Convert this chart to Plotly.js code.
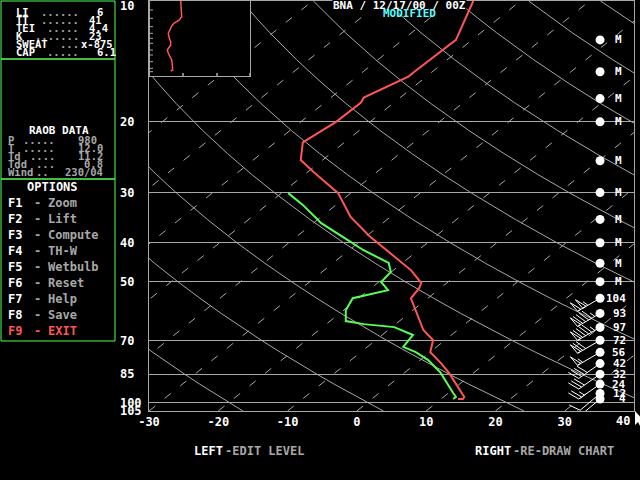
<!DOCTYPE html>
<html><head><meta charset="utf-8">
<script src="https://cdn.plot.ly/plotly-3.0.1.min.js"></script>
<style>html,body{margin:0;padding:0;background:#000;}#chart{width:640px;height:480px;}</style>
</head><body><div id="chart"></div>
<script>
// ---------------- data ----------------
// temperature profile (skewed x-axis units, pressure in tens of hPa)
const tempX = [16.8, 14.3, 8.3, 7.5, 1.0, 0.6, -3.0, -7.8, -8.1, -6.2, -2.7, -0.9, 1.8, 4.2, 7.8, 9.3, 9.0, 7.8, 8.5, 9.6, 11.0, 10.6, 12.1, 13.3, 15.5, 15.3, 14.6];
const tempP = [10.0, 12.5, 15.0, 15.4, 17.4, 17.9, 20.0, 22.5, 24.9, 26.7, 30.1, 34.5, 38.5, 41.7, 46.8, 50.4, 51.9, 55.0, 58.9, 66.0, 69.9, 74.9, 79.7, 84.4, 96.9, 98.0, 98.0];
// dewpoint profile
const dewX = [-9.9, -7.8, -5.6, -5.2, -1.3, 0.9, 4.6, 4.9, 3.5, 4.5, -0.6, -1.6, -1.6, 1.0, 5.4, 8.1, 6.7, 8.5, 10.3, 12.1, 13.9, 14.3, 13.9];
const dewP = [30.1, 32.2, 35.1, 35.7, 39.4, 41.7, 44.9, 47.3, 50.1, 52.5, 55.0, 58.9, 62.7, 63.8, 64.9, 67.9, 72.7, 74.9, 78.4, 84.4, 94.7, 96.9, 98.0];
// winds
const windP = [55, 60, 65, 70, 75, 80, 85, 90, 95, 98];
const windSpd = [104, 93, 97, 72, 56, 42, 32, 24, 12, 4];
const windDir = [240, 240, 240, 240, 240, 235, 235, 235, 230, 230];
const missingP = [12.5, 15, 17.5, 20, 25, 30, 35, 40, 45, 50];
// axes
const yTicks = [10, 20, 30, 40, 50, 70, 85, 100, 105];
const yTickText = ['', '20', '30', '40', '50', '70', '85', '100', '105'];
const xTicks = [-30, -20, -10, 0, 10, 20, 30, 40];
const xTickText = ['-30', '-20', '-10', '0', '10', '20', '30', ''];
// background lines
const isotherms = [-100, -90, -80, -70, -60, -50, -40, -30, -20, -10, 0, 10, 20, 30, 40];
const adiabats = [-20, 0, 20, 40, 60, 80, 100, 120, 140, 160, 180, 200, 220];
// inset curve
const insetT = [30.7, 31.0, 31.7, 29.3, 24.0, 21.7, 20.0, 18.3, 19.3, 20.7, 20.7, 18.3, 17.3, 18.3, 20.0, 21.7, 22.3, 22.7, 20.7];
const insetLev = [0, 5.7, 15.7, 19, 22.3, 25, 29, 32.3, 37.3, 40.7, 44, 47.3, 49, 52.3, 55.7, 59, 64, 69, 70];
// text panels
const indexNames = ['LI', 'TT', 'TEI', 'K', 'SWEAT', 'CAP'];
const indexVals = ['6', '41', '4.4', '23', 'x-875', '6.1'];
const raobNames = ['P', 'T', 'Td', 'Tdd', 'Wind'];
const raobVals = ['980', '12.0', '11.2', '0.8', '230/04'];
const optKeys = ['F1', 'F2', 'F3', 'F4', 'F5', 'F6', 'F7', 'F8', 'F9'];
const optNames = ['Zoom', 'Lift', 'Compute', 'TH-W', 'Wetbulb', 'Reset', 'Help', 'Save', 'EXIT'];

// ---------------- styling / geometry ----------------
const W = 640, H = 480, ML = 149, MR = 6, MT = 1, MB = 69;
const PW = W - ML - MR, PH = H - MT - MB;
const FONT = 'DejaVu Sans Mono';
const GREY = '#a8a8a8', RED = '#ff5555', GREEN = '#55ff55', CYAN = '#55ffff', WHITE = '#ffffff';
const SKEW = 31.3, PBASE = 105;
const windX = 35.1;

const px = x => (x - ML) / PW;
const py = y => (H - MB - y) / PH;

function txt(text, x, y, color, xanchor, size) {
  return {text: text, x: px(x), y: py(y), xref: 'paper', yref: 'paper', xanchor: xanchor || 'left', yanchor: 'middle',
    showarrow: false, borderpad: 0, font: {family: FONT, size: size || 12, color: color, weight: 'bold'}};
}

const traces = [];
// isotherms (dashed)
{
  const xs = [], ys = [];
  isotherms.forEach(t => { xs.push(t, t + SKEW * Math.log(PBASE / 10), null); ys.push(PBASE, 10, null); });
  traces.push({x: xs, y: ys, mode: 'lines', line: {color: GREY, width: 1, dash: '8px,12px'}, hoverinfo: 'skip'});
}
// dry adiabats
{
  const xs = [], ys = [];
  const levels = [105, 100, 95, 90, 85, 80, 75, 70, 65, 60, 55, 50, 45, 40, 35, 30, 27, 24, 21, 18, 16, 14, 12, 11, 10];
  adiabats.forEach(th => {
    levels.forEach(p => { xs.push((th + 273.15) * Math.pow(p / 100, 0.2857) - 273.15 + SKEW * Math.log(PBASE / p)); ys.push(p); });
    xs.push(null); ys.push(null);
  });
  traces.push({x: xs, y: ys, mode: 'lines', line: {color: GREY, width: 1}, hoverinfo: 'skip'});
}
traces.push({x: tempX, y: tempP, mode: 'lines', line: {color: RED, width: 2}});
traces.push({x: dewX, y: dewP, mode: 'lines', line: {color: GREEN, width: 2}});
// wind station circles
const allLev = missingP.concat(windP);
traces.push({x: allLev.map(() => windX), y: allLev, mode: 'markers', marker: {color: WHITE, size: 9, line: {width: 0}}, cliponaxis: false});
// inset
traces.push({x: insetT, y: insetLev, xaxis: 'x2', yaxis: 'y2', mode: 'lines', line: {color: RED, width: 1.5}});

const shapes = [];
// left panel boxes
[[1, 1, 115, 59], [1, 59, 115, 179], [1, 179, 115, 341]].forEach(b => {
  shapes.push({type: 'rect', xref: 'paper', yref: 'paper', x0: px(b[0]), x1: px(b[2]), y0: py(b[1]), y1: py(b[3]), line: {color: GREEN, width: 1}});
});
// inset ticks
[9, 17.3, 25.7, 32.3, 37.3, 42.3, 49, 54, 60.7, 67.3, 70.7].forEach(v => shapes.push({type: 'line', xref: 'x2', yref: 'y2', x0: 0, x1: 3, y0: v, y1: v, line: {color: GREY, width: 1}}));
[6.3, 60.7].forEach(v => shapes.push({type: 'line', xref: 'x2', yref: 'y2', x0: 100, x1: 103, y0: v, y1: v, line: {color: GREY, width: 1}}));
[33, 67, 100].forEach(v => shapes.push({type: 'line', xref: 'x2', yref: 'y2', x0: v, x1: v, y0: 75, y1: 72, line: {color: WHITE, width: 1}}));
// wind barbs
function barbPath(spd, dir) {
  const r = dir * Math.PI / 180;
  const ux = Math.sin(r), uy = Math.cos(r);
  const qx = uy, qy = -ux;
  const L = 26, F = 11, step = 3.5, tilt = 5;
  const f = v => v.toFixed(1);
  let d = 'M0,0 L' + f(ux * L) + ',' + f(uy * L);
  let s = Math.round(spd / 5) * 5;
  let pos = L;
  while (s >= 50) {
    d += ' M' + f(ux * pos) + ',' + f(uy * pos) + ' L' + f(ux * (pos + 2) + qx * F) + ',' + f(uy * (pos + 2) + qy * F) + ' L' + f(ux * (pos - 4)) + ',' + f(uy * (pos - 4)) + ' Z';
    pos -= 6; s -= 50;
  }
  while (s >= 10) {
    d += ' M' + f(ux * pos) + ',' + f(uy * pos) + ' L' + f(ux * (pos + tilt) + qx * F) + ',' + f(uy * (pos + tilt) + qy * F);
    pos -= step; s -= 10;
  }
  if (s >= 5) {
    if (pos === L) pos -= step;
    d += ' M' + f(ux * pos) + ',' + f(uy * pos) + ' L' + f(ux * (pos + tilt / 2) + qx * F / 2) + ',' + f(uy * (pos + tilt / 2) + qy * F / 2);
  }
  return d;
}
windP.forEach((p, i) => {
  shapes.push({type: 'path', xref: 'x', yref: 'y', xsizemode: 'pixel', ysizemode: 'pixel', xanchor: windX, yanchor: p,
    path: barbPath(windSpd[i], windDir[i]), line: {color: WHITE, width: 1}, layer: 'above'});
});
// mouse cursor
shapes.push({type: 'path', xref: 'paper', yref: 'paper', xsizemode: 'pixel', ysizemode: 'pixel', xanchor: px(635), yanchor: py(411),
  path: 'M0,0 L0,-14 L3,-11 L6,-17 L8,-16 L5,-10 L9,-10 Z', fillcolor: WHITE, line: {color: WHITE, width: 0}});

const ann = [];
// title
ann.push(Object.assign(txt('BNA / 12/17/00 / 00Z', 399, 5, WHITE, 'center', 11), {bgcolor: '#000000'}));
ann.push(txt('MODIFIED', 409, 13, CYAN, 'center', 11));
ann.push(txt('10', 119, 6, WHITE, 'left'));
ann.push(txt('40', 631, 421, WHITE, 'right'));
// indices box
const idxDots = [6, 6, 5, 7, 3, 5];
const idxValX = [96, 88, 88, 88, 80, 96];
indexNames.forEach((n, i) => {
  const y = 12 + 8 * i;
  ann.push(txt(n, 15, y, WHITE, 'left', 10.5));
  ann.push(txt('.'.repeat(idxDots[i]), 80, y, GREY, 'right', 10.5));
  ann.push(txt(indexVals[i], idxValX[i], y, WHITE, 'left', 10.5));
});
// raob box
ann.push(txt('RAOB DATA', 59, 131, WHITE, 'center', 11));
const raobDots = [5, 5, 4, 3, 2];
raobNames.forEach((n, i) => {
  const y = 139.5 + 8.2 * i;
  ann.push(txt(n, 7, y, GREY, 'left', 10.5));
  ann.push(txt('.'.repeat(raobDots[i]), i === 4 ? 50 : 56, y, GREY, 'right', 10.5));
  ann.push(txt(raobVals[i], i === 0 ? 98 : 104, y, GREY, 'right', 10.5));
});
// options box
ann.push(txt('OPTIONS', 52, 187, WHITE, 'center'));
optKeys.forEach((k, i) => {
  const y = 203.3 + 16 * i;
  const last = i === optKeys.length - 1;
  ann.push(txt(k, 7, y, last ? RED : WHITE, 'left'));
  ann.push(txt('-', 37, y, last ? RED : GREY, 'center'));
  ann.push(txt(optNames[i], 47, y, last ? RED : GREY, 'left'));
});
// bottom help line
ann.push(txt('LEFT', 224, 451, WHITE, 'right'));
ann.push(txt('-EDIT LEVEL', 224, 451, GREY, 'left'));
ann.push(txt('RIGHT', 512, 451, WHITE, 'right'));
ann.push(txt('-RE-DRAW CHART', 512, 451, GREY, 'left'));
// wind labels
missingP.forEach(p => ann.push({text: 'M', x: 37.8, y: Math.log10(p), xref: 'x', yref: 'y', xanchor: 'center', yanchor: 'middle', showarrow: false, borderpad: 0,
  font: {family: FONT, size: 11, color: WHITE, weight: 'bold'}}));
windSpd.forEach((s, i) => ann.push({text: String(s), x: 39.0, y: Math.log10(windP[i]), xref: 'x', yref: 'y', xanchor: 'right', yanchor: 'middle', showarrow: false, borderpad: 0,
  font: {family: FONT, size: 11, color: WHITE, weight: 'bold'}}));

const layout = {
  width: W, height: H,
  margin: {l: ML, r: MR, t: MT, b: MB, pad: 0},
  paper_bgcolor: '#000000', plot_bgcolor: '#000001',
  showlegend: false, hovermode: false,
  xaxis: {range: [-30, 40], tickvals: xTicks, ticktext: xTickText,
    showgrid: false, zeroline: false, showline: true, mirror: true, linecolor: GREY, linewidth: 1, ticks: '',
    tickfont: {family: FONT, size: 12, color: WHITE, weight: 'bold'}},
  yaxis: {type: 'log', range: [Math.log10(105), 1], tickvals: yTicks, ticktext: yTickText.map(t => t.length === 2 ? t + '\u00a0' : t),
    showgrid: true, gridcolor: GREY, gridwidth: 1, zeroline: false, showline: true, mirror: true, linecolor: GREY, linewidth: 1, ticks: '',
    ticklabelstandoff: 4, tickfont: {family: FONT, size: 12, color: WHITE, weight: 'bold'}},
  xaxis2: {domain: [px(150), px(250)], range: [0, 100], anchor: 'y2', showgrid: false, zeroline: false, showticklabels: false,
    showline: true, mirror: true, linecolor: GREY, linewidth: 1, ticks: ''},
  yaxis2: {domain: [py(76), py(1)], range: [75, 0], anchor: 'x2', showgrid: false, zeroline: false, showticklabels: false,
    showline: true, mirror: true, linecolor: GREY, linewidth: 1, ticks: ''},
  shapes: shapes,
  annotations: ann
};
Plotly.newPlot('chart', traces, layout, {staticPlot: true, displayModeBar: false});
</script>
</body></html>
